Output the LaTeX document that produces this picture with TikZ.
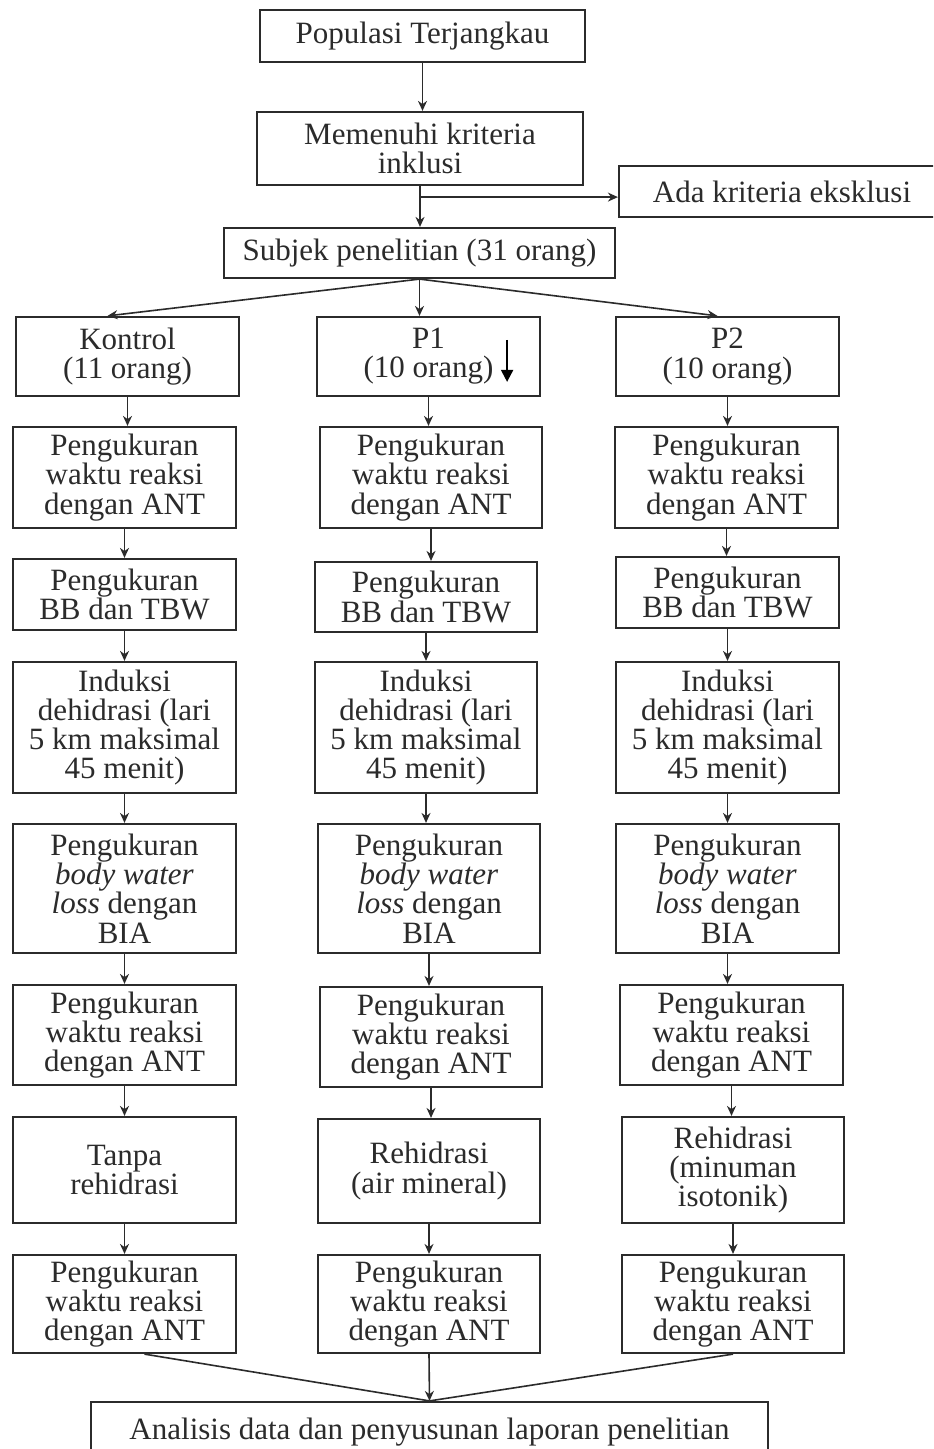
\documentclass[tikz,border=0pt]{standalone}
\usepackage{fontspec}
\setmainfont{Liberation Serif}
\usetikzlibrary{arrows.meta,calc}
\definecolor{ink}{HTML}{2B2B2B}
\tikzset{
  bx/.style={draw=ink, line width=1.1pt, rectangle, inner sep=0pt, align=center,
    text=ink, font=\fontsize{15.5pt}{14.6pt}\selectfont},
  arr/.style={draw=ink, line width=0.8pt, -{Stealth[length=5pt,width=4.5pt]}},
  ln/.style={draw=ink, line width=0.8pt},
  bigarr/.style={draw=black, line width=1pt, -{Triangle[length=6pt,width=6pt]}}
}
\newcommand\mybox[6]{\node[bx, minimum width={(#4-#2)*0.5pt}, minimum height={(#5-#3)*0.5pt}] (#1) at ({(#2+#4)/2},{(#3+#5)/2}) {#6};}
\begin{document}
\begin{tikzpicture}[x=0.5pt,y=-0.5pt]
\path[use as bounding box] (0,0) rectangle (933,1449);
\fill[white] (0,0) rectangle (933,1449);
\clip (0,0) rectangle (933,1449);

% top chain
\mybox{pop}{260}{10}{585}{62}{Populasi Terjangkau}
\mybox{inc}{257}{112}{583}{185}{Memenuhi kriteria\\inklusi}
\mybox{exc}{619}{166}{945}{217}{Ada kriteria eksklusi}
\mybox{sub}{224}{228}{615}{278}{Subjek penelitian (31 orang)}

% column 1
\mybox{k0}{16}{317}{239}{396}{Kontrol\\(11 orang)}
\mybox{k1}{13}{427}{236}{528}{Pengukuran\\waktu reaksi\\dengan ANT}
\mybox{k2}{13}{559}{236}{630}{Pengukuran\\BB dan TBW}
\mybox{k3}{13}{662}{236}{793}{Induksi\\dehidrasi (lari\\5 km maksimal\\45 menit)}
\mybox{k4}{13}{824}{236}{953}{Pengukuran\\\textit{body water}\\\textit{loss} dengan\\BIA}
\mybox{k5}{13}{985}{236}{1085}{Pengukuran\\waktu reaksi\\dengan ANT}
\mybox{k6}{13}{1117}{236}{1223}{Tanpa\\rehidrasi}
\mybox{k7}{13}{1255}{236}{1353}{Pengukuran\\waktu reaksi\\dengan ANT}

% column 2
\mybox{a0}{317}{317}{540}{396}{P1\\(10 orang)}
\mybox{a1}{320}{427}{542}{528}{Pengukuran\\waktu reaksi\\dengan ANT}
\mybox{a2}{315}{562}{537}{632}{Pengukuran\\BB dan TBW}
\mybox{a3}{315}{662}{537}{793}{Induksi\\dehidrasi (lari\\5 km maksimal\\45 menit)}
\mybox{a4}{318}{824}{540}{953}{Pengukuran\\\textit{body water}\\\textit{loss} dengan\\BIA}
\mybox{a5}{320}{987}{542}{1087}{Pengukuran\\waktu reaksi\\dengan ANT}
\mybox{a6}{318}{1119}{540}{1223}{Rehidrasi\\(air mineral)}
\mybox{a7}{318}{1255}{540}{1353}{Pengukuran\\waktu reaksi\\dengan ANT}

% column 3
\mybox{b0}{616}{317}{839}{396}{P2\\(10 orang)}
\mybox{b1}{615}{427}{838}{528}{Pengukuran\\waktu reaksi\\dengan ANT}
\mybox{b2}{616}{557}{839}{628}{Pengukuran\\BB dan TBW}
\mybox{b3}{616}{662}{839}{793}{Induksi\\dehidrasi (lari\\5 km maksimal\\45 menit)}
\mybox{b4}{616}{824}{839}{953}{Pengukuran\\\textit{body water}\\\textit{loss} dengan\\BIA}
\mybox{b5}{620}{985}{843}{1085}{Pengukuran\\waktu reaksi\\dengan ANT}
\mybox{b6}{622}{1117}{844}{1223}{Rehidrasi\\(minuman\\isotonik)}
\mybox{b7}{622}{1255}{844}{1353}{Pengukuran\\waktu reaksi\\dengan ANT}

% bottom
\mybox{fin}{91}{1402}{768}{1462}{Analisis data dan penyusunan laporan penelitian}

% top connectors
\draw[arr] (pop.south) -- (pop.south |- inc.north);
\draw[arr] (inc.south) -- (inc.south |- sub.north);
\coordinate (br) at ($(inc.south)+(0,11)$);
\draw[arr] (br) -- (br -| exc.west);

% split
\draw[arr] (sub.south) -- ($(k0.north)+(-20,0)$);
\draw[arr] (sub.south) -- (sub.south |- a0.north);
\draw[arr] (sub.south) -- ($(b0.north)+(-10,0)$);

% vertical chains
\foreach \c in {k,a,b}{
  \foreach \i [evaluate=\i as \j using int(\i+1)] in {0,...,6}{
    \draw[arr] (\c\i.south) -- (\c\i.south |- \c\j.north);
  }
}

% merge
\coordinate (m) at (fin.north);
\draw[ln] ($(k7.south)+(20,0)$) -- (m);
\draw[ln] (b7.south) -- (m);
\draw[arr] (a7.south) -- (m);

% stray arrow inside P1
\coordinate (s1) at ($(a0.north east)+(-34,24)$);
\coordinate (s2) at ($(a0.north east)+(-34,66)$);
\draw[bigarr] (s1) -- (s2);
\end{tikzpicture}
\end{document}
